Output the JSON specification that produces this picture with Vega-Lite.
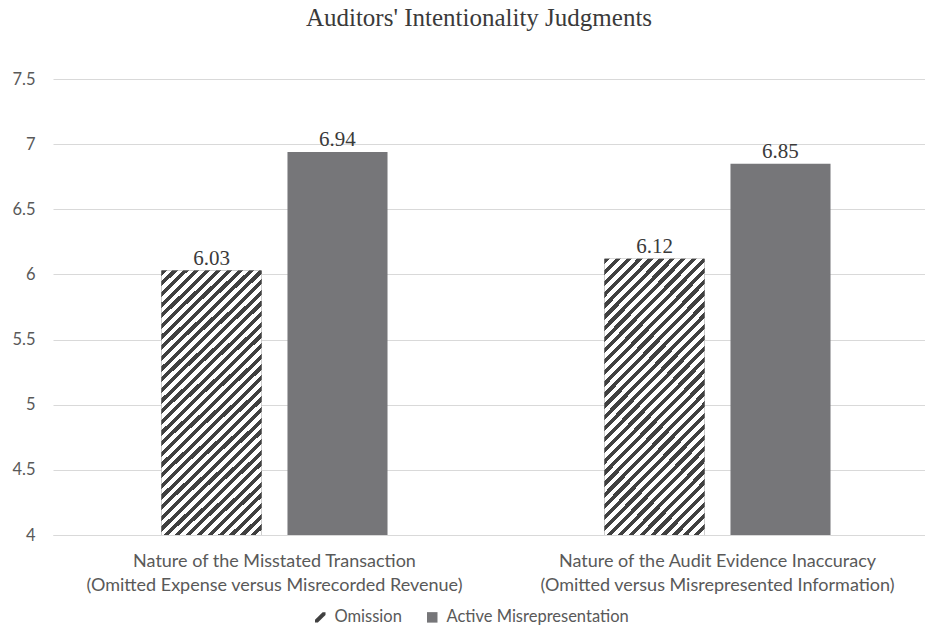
{
  "$schema": "https://vega.github.io/schema/vega-lite/v6.json",
  "autosize": "none",
  "padding": {"left": 53, "top": 79, "right": 0, "bottom": 100},
  "width": 872,
  "height": 456,
  "background": "#ffffff",
  "title": {
    "text": "Auditors' Intentionality Judgments",
    "font": "Liberation Serif",
    "fontSize": 25,
    "fontWeight": "normal",
    "color": "#3a3a3a",
    "anchor": "middle",
    "frame": "group",
    "dx": -10,
    "offset": 40
  },
  "data": {
    "values": [
      {"category": "Nature of the Misstated Transaction|(Omitted Expense versus Misrecorded Revenue)", "series": "Omission", "value": 6.03},
      {"category": "Nature of the Misstated Transaction|(Omitted Expense versus Misrecorded Revenue)", "series": "Active Misrepresentation", "value": 6.94},
      {"category": "Nature of the Audit Evidence Inaccuracy|(Omitted versus Misrepresented Information)", "series": "Omission", "value": 6.12},
      {"category": "Nature of the Audit Evidence Inaccuracy|(Omitted versus Misrepresented Information)", "series": "Active Misrepresentation", "value": 6.85}
    ]
  },
  "encoding": {
    "x": {
      "field": "category",
      "type": "nominal",
      "sort": null,
      "scale": {"range": [0, 886], "paddingInner": 0, "paddingOuter": 0},
      "axis": {
        "title": null,
        "labelAngle": 0,
        "labelExpr": "split(datum.label, '|')",
        "labelFont": "Lato",
        "labelFontSize": 18,
        "labelColor": "#595959",
        "labelLineHeight": 24,
        "labelPadding": 17,
        "ticks": false,
        "domainColor": "#d9d9d9",
        "labelLimit": 600
      }
    },
    "xOffset": {
      "field": "series",
      "type": "nominal",
      "scale": {"domain": ["Omission", "Active Misrepresentation"], "paddingInner": 0.206, "paddingOuter": 0.861}
    },
    "y": {
      "field": "value",
      "type": "quantitative",
      "scale": {"domain": [4, 7.5], "zero": false, "nice": false},
      "axis": {
        "title": null,
        "values": [4, 4.5, 5, 5.5, 6, 6.5, 7, 7.5],
        "format": "~g",
        "labelFont": "Lato",
        "labelFontSize": 16.5,
        "labelColor": "#595959",
        "labelPadding": 18,
        "ticks": false,
        "domain": false,
        "gridColor": "#d9d9d9",
        "gridWidth": 1
      }
    },
    "y2": {"datum": 4}
  },
  "layer": [
    {
      "mark": {"type": "bar"},
      "encoding": {
        "color": {
          "field": "series",
          "type": "nominal",
          "scale": {"domain": ["Omission", "Active Misrepresentation"], "range": ["#404040", "#767679"]},
          "legend": {
            "title": null,
            "orient": "none",
            "direction": "horizontal",
            "legendX": 259,
            "legendY": 530,
            "labelFont": "Lato",
            "labelFontSize": 16.5,
            "labelColor": "#595959",
            "labelLimit": 400,
            "symbolSize": 110,
            "symbolStrokeWidth": 0,
            "columnPadding": 22,
            "labelOffset": 6,
            "encode": {
              "symbols": {
                "update": {
                  "shape": {"signal": "datum.label === 'Omission' ? 'M-1,1L-0.45,1L1,-0.45L1,-1L0.45,-1L-1,0.45Z' : 'square'"}
                }
              }
            }
          }
        }
      }
    },
    {
      "transform": [{"filter": "datum.series === 'Omission'"}],
      "mark": {
        "type": "bar",
        "fill": {
          "gradient": "linear",
          "x1": 0, "y1": 0, "x2": 0.4463, "y2": 1.2051,
          "stops": [
            {"offset": 0, "color": "#404040"}, {"offset": 0.01424, "color": "#404040"}, {"offset": 0.01424, "color": "#ffffff"}, {"offset": 0.02941, "color": "#ffffff"},
            {"offset": 0.02941, "color": "#404040"}, {"offset": 0.04365, "color": "#404040"}, {"offset": 0.04365, "color": "#ffffff"}, {"offset": 0.05882, "color": "#ffffff"},
            {"offset": 0.05882, "color": "#404040"}, {"offset": 0.07306, "color": "#404040"}, {"offset": 0.07306, "color": "#ffffff"}, {"offset": 0.08824, "color": "#ffffff"},
            {"offset": 0.08824, "color": "#404040"}, {"offset": 0.10248, "color": "#404040"}, {"offset": 0.10248, "color": "#ffffff"}, {"offset": 0.11765, "color": "#ffffff"},
            {"offset": 0.11765, "color": "#404040"}, {"offset": 0.13189, "color": "#404040"}, {"offset": 0.13189, "color": "#ffffff"}, {"offset": 0.14706, "color": "#ffffff"},
            {"offset": 0.14706, "color": "#404040"}, {"offset": 0.1613, "color": "#404040"}, {"offset": 0.1613, "color": "#ffffff"}, {"offset": 0.17647, "color": "#ffffff"},
            {"offset": 0.17647, "color": "#404040"}, {"offset": 0.19071, "color": "#404040"}, {"offset": 0.19071, "color": "#ffffff"}, {"offset": 0.20588, "color": "#ffffff"},
            {"offset": 0.20588, "color": "#404040"}, {"offset": 0.22012, "color": "#404040"}, {"offset": 0.22012, "color": "#ffffff"}, {"offset": 0.23529, "color": "#ffffff"},
            {"offset": 0.23529, "color": "#404040"}, {"offset": 0.24953, "color": "#404040"}, {"offset": 0.24953, "color": "#ffffff"}, {"offset": 0.26471, "color": "#ffffff"},
            {"offset": 0.26471, "color": "#404040"}, {"offset": 0.27895, "color": "#404040"}, {"offset": 0.27895, "color": "#ffffff"}, {"offset": 0.29412, "color": "#ffffff"},
            {"offset": 0.29412, "color": "#404040"}, {"offset": 0.30836, "color": "#404040"}, {"offset": 0.30836, "color": "#ffffff"}, {"offset": 0.32353, "color": "#ffffff"},
            {"offset": 0.32353, "color": "#404040"}, {"offset": 0.33777, "color": "#404040"}, {"offset": 0.33777, "color": "#ffffff"}, {"offset": 0.35294, "color": "#ffffff"},
            {"offset": 0.35294, "color": "#404040"}, {"offset": 0.36718, "color": "#404040"}, {"offset": 0.36718, "color": "#ffffff"}, {"offset": 0.38235, "color": "#ffffff"},
            {"offset": 0.38235, "color": "#404040"}, {"offset": 0.39659, "color": "#404040"}, {"offset": 0.39659, "color": "#ffffff"}, {"offset": 0.41176, "color": "#ffffff"},
            {"offset": 0.41176, "color": "#404040"}, {"offset": 0.426, "color": "#404040"}, {"offset": 0.426, "color": "#ffffff"}, {"offset": 0.44118, "color": "#ffffff"},
            {"offset": 0.44118, "color": "#404040"}, {"offset": 0.45542, "color": "#404040"}, {"offset": 0.45542, "color": "#ffffff"}, {"offset": 0.47059, "color": "#ffffff"},
            {"offset": 0.47059, "color": "#404040"}, {"offset": 0.48483, "color": "#404040"}, {"offset": 0.48483, "color": "#ffffff"}, {"offset": 0.5, "color": "#ffffff"},
            {"offset": 0.5, "color": "#404040"}, {"offset": 0.51424, "color": "#404040"}, {"offset": 0.51424, "color": "#ffffff"}, {"offset": 0.52941, "color": "#ffffff"},
            {"offset": 0.52941, "color": "#404040"}, {"offset": 0.54365, "color": "#404040"}, {"offset": 0.54365, "color": "#ffffff"}, {"offset": 0.55882, "color": "#ffffff"},
            {"offset": 0.55882, "color": "#404040"}, {"offset": 0.57306, "color": "#404040"}, {"offset": 0.57306, "color": "#ffffff"}, {"offset": 0.58824, "color": "#ffffff"},
            {"offset": 0.58824, "color": "#404040"}, {"offset": 0.60248, "color": "#404040"}, {"offset": 0.60248, "color": "#ffffff"}, {"offset": 0.61765, "color": "#ffffff"},
            {"offset": 0.61765, "color": "#404040"}, {"offset": 0.63189, "color": "#404040"}, {"offset": 0.63189, "color": "#ffffff"}, {"offset": 0.64706, "color": "#ffffff"},
            {"offset": 0.64706, "color": "#404040"}, {"offset": 0.6613, "color": "#404040"}, {"offset": 0.6613, "color": "#ffffff"}, {"offset": 0.67647, "color": "#ffffff"},
            {"offset": 0.67647, "color": "#404040"}, {"offset": 0.69071, "color": "#404040"}, {"offset": 0.69071, "color": "#ffffff"}, {"offset": 0.70588, "color": "#ffffff"},
            {"offset": 0.70588, "color": "#404040"}, {"offset": 0.72012, "color": "#404040"}, {"offset": 0.72012, "color": "#ffffff"}, {"offset": 0.73529, "color": "#ffffff"},
            {"offset": 0.73529, "color": "#404040"}, {"offset": 0.74953, "color": "#404040"}, {"offset": 0.74953, "color": "#ffffff"}, {"offset": 0.76471, "color": "#ffffff"},
            {"offset": 0.76471, "color": "#404040"}, {"offset": 0.77895, "color": "#404040"}, {"offset": 0.77895, "color": "#ffffff"}, {"offset": 0.79412, "color": "#ffffff"},
            {"offset": 0.79412, "color": "#404040"}, {"offset": 0.80836, "color": "#404040"}, {"offset": 0.80836, "color": "#ffffff"}, {"offset": 0.82353, "color": "#ffffff"},
            {"offset": 0.82353, "color": "#404040"}, {"offset": 0.83777, "color": "#404040"}, {"offset": 0.83777, "color": "#ffffff"}, {"offset": 0.85294, "color": "#ffffff"},
            {"offset": 0.85294, "color": "#404040"}, {"offset": 0.86718, "color": "#404040"}, {"offset": 0.86718, "color": "#ffffff"}, {"offset": 0.88235, "color": "#ffffff"},
            {"offset": 0.88235, "color": "#404040"}, {"offset": 0.89659, "color": "#404040"}, {"offset": 0.89659, "color": "#ffffff"}, {"offset": 0.91176, "color": "#ffffff"},
            {"offset": 0.91176, "color": "#404040"}, {"offset": 0.926, "color": "#404040"}, {"offset": 0.926, "color": "#ffffff"}, {"offset": 0.94118, "color": "#ffffff"},
            {"offset": 0.94118, "color": "#404040"}, {"offset": 0.95542, "color": "#404040"}, {"offset": 0.95542, "color": "#ffffff"}, {"offset": 0.97059, "color": "#ffffff"},
            {"offset": 0.97059, "color": "#404040"}, {"offset": 0.98483, "color": "#404040"}, {"offset": 0.98483, "color": "#ffffff"}, {"offset": 1, "color": "#ffffff"}
          ]
        }
      }
    },
    {
      "mark": {
        "type": "text",
        "font": "Liberation Serif",
        "fontSize": 21,
        "color": "#3a3a3a",
        "baseline": "alphabetic",
        "dy": -6
      },
      "encoding": {
        "text": {"field": "value", "type": "quantitative", "format": ".2f"},
        "y2": null
      }
    }
  ],
  "config": {
    "view": {"stroke": null}
  }
}
